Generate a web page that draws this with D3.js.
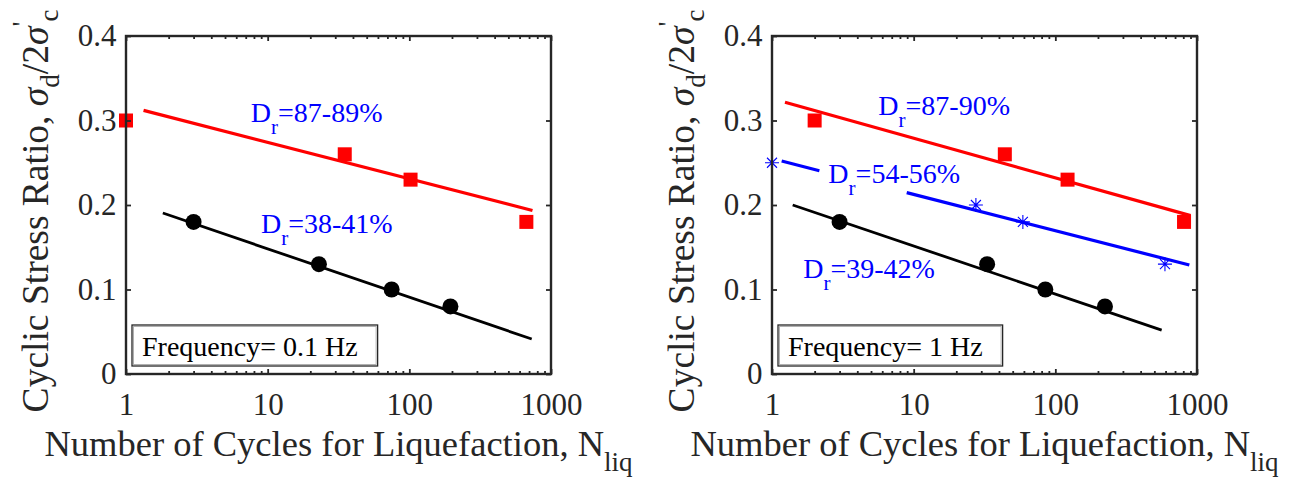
<!DOCTYPE html>
<html>
<head>
<meta charset="utf-8">
<script src="https://cdn.jsdelivr.net/npm/d3@7"></script>
<style>
    body { margin: 0; background: #fff; }
    text { font-family: "Liberation Serif", "Times New Roman", serif; }
</style>
</head>
<body>
<div id="chart"></div>
<script>
// axis ticks
const xTickValues = [1, 10, 100, 1000];
const xTickLabels = ['1', '10', '100', '1000'];
const yTickValues = [0, 0.1, 0.2, 0.3, 0.4];
const yTickLabels = ['0', '0.1', '0.2', '0.3', '0.4'];

// Frequency = 0.1 Hz
const dense01N = [1, 35, 102, 670];
const dense01CSR = [0.30, 0.26, 0.23, 0.18];
const dense01Fit = [[1.33, 0.312], [740, 0.1935]];
const loose01N = [3, 23, 75, 195];
const loose01CSR = [0.18, 0.13, 0.10, 0.08];
const loose01Fit = [[1.82, 0.1905], [731, 0.0414]];

// Frequency = 1 Hz
const dense1N = [2, 44, 122, 810];
const dense1CSR = [0.30, 0.26, 0.23, 0.18];
const dense1Fit = [[1.235, 0.3215], [902, 0.1874]];
const medium1N = [1, 27.5, 59, 594];
const medium1CSR = [0.25, 0.20, 0.18, 0.13];
const medium1FitA = [[1.17, 0.252], [2.16, 0.2406]];
const medium1FitB = [[8.93, 0.2146], [883, 0.129]];
const loose1N = [3, 33, 85, 224];
const loose1CSR = [0.18, 0.13, 0.10, 0.08];
const loose1Fit = [[1.4, 0.20], [563, 0.052]];

// annotation labels: text after "D_r" and where it sits (N, CSR)
const labels01 = ['=87-89%', '=38-41%'];
const labels01At = [[7.6, 0.298], [8.97, 0.167]];
const labels1 = ['=87-90%', '=54-56%', '=39-42%'];
const labels1At = [[5.63, 0.3065], [2.5, 0.2257], [1.66, 0.1133]];

const freqText = ['Frequency= 0.1 Hz', 'Frequency= 1 Hz'];

const zip = (xs, ys) => xs.map((x, i) => [x, ys[i]]);

const panels = [
    {
        left: 126,
        series: [
            { marker: 'square', color: '#ff0000', pts: zip(dense01N, dense01CSR), fits: [dense01Fit] },
            { marker: 'circle', color: '#000000', pts: zip(loose01N, loose01CSR), fits: [loose01Fit] }
        ],
        labels: zip(labels01, labels01At),
        freq: freqText[0]
    },
    {
        left: 772,
        series: [
            { marker: 'square', color: '#ff0000', pts: zip(dense1N, dense1CSR), fits: [dense1Fit] },
            { marker: 'star', color: '#0000ff', pts: zip(medium1N, medium1CSR), fits: [medium1FitA, medium1FitB] },
            { marker: 'circle', color: '#000000', pts: zip(loose1N, loose1CSR), fits: [loose1Fit] }
        ],
        labels: zip(labels1, labels1At),
        freq: freqText[1]
    }
];

const plotTop = 36, width = 425, height = 338;
const axisColor = '#262626';
const minorTicks = [];
[1, 10, 100].forEach(d => { for (let k = 2; k <= 9; k++) minorTicks.push(d * k); });

const svg = d3.select('#chart').append('svg')
    .attr('width', 1293)
    .attr('height', 482);

function styleAxis(g, size) {
    g.select('.domain').remove();
    g.selectAll('line').attr('stroke', axisColor).attr('stroke-width', 1.8);
    g.selectAll('text')
        .attr('font-size', size)
        .attr('fill', axisColor);
}

function drawPanel(p) {
    const x = d3.scaleLog().domain([1, 1000]).range([0, width]);
    const y = d3.scaleLinear().domain([0, 0.4]).range([height, 0]);

    const g = svg.append('g').attr('transform', `translate(${p.left},${plotTop})`);

    // fit lines
    const lineFn = d3.line().x(d => x(d[0])).y(d => y(d[1]));
    p.series.forEach(s => {
        s.fits.forEach(f => {
            g.append('path')
                .attr('d', lineFn(f))
                .attr('stroke', s.color)
                .attr('stroke-width', s.marker === 'circle' ? 2.8 : 3.2)
                .attr('fill', 'none');
        });
    });

    // markers
    p.series.forEach(s => {
        const m = g.selectAll(null).data(s.pts).enter();
        if (s.marker === 'square') {
            m.append('rect')
                .attr('x', d => x(d[0]) - 7)
                .attr('y', d => y(d[1]) - 7)
                .attr('width', 14).attr('height', 14)
                .attr('fill', s.color);
        } else if (s.marker === 'circle') {
            m.append('circle')
                .attr('cx', d => x(d[0]))
                .attr('cy', d => y(d[1]))
                .attr('r', 8)
                .attr('fill', s.color);
        } else {
            m.append('path')
                .attr('transform', d => `translate(${x(d[0])},${y(d[1])})`)
                .attr('d', 'M-7,0L7,0M0,-7L0,7M-5,-5L5,5M-5,5L5,-5')
                .attr('stroke', s.color)
                .attr('stroke-width', 1.1)
                .attr('fill', 'none');
        }
    });

    // D_r labels
    p.labels.forEach(([txt, at]) => {
        const t = g.append('text')
            .attr('x', x(at[0]))
            .attr('y', y(at[1]))
            .attr('fill', '#0000ff')
            .attr('font-size', 28);
        t.append('tspan').text('D');
        t.append('tspan').attr('dy', 12).attr('font-size', 21).text('r');
        t.append('tspan').attr('dy', -12).text(txt);
    });

    // frequency box
    const fb = g.append('g').attr('transform', `translate(6, ${height - 49})`);
    const ft = fb.append('text')
        .attr('x', 10)
        .attr('y', 31)
        .attr('font-size', 28)
        .attr('fill', '#000')
        .text(p.freq);
    const bw = ft.node().getComputedTextLength() + 30;
    fb.insert('rect', 'text')
        .attr('width', bw)
        .attr('height', 41)
        .attr('fill', '#fff')
        .attr('stroke', axisColor)
        .attr('stroke-width', 1.3);
    fb.insert('rect', 'text')
        .attr('x', 1.5).attr('y', 1.5)
        .attr('width', bw - 3)
        .attr('height', 38)
        .attr('fill', 'none')
        .attr('stroke', '#b0b0b0')
        .attr('stroke-width', 1);

    // ticks
    g.append('g').attr('transform', `translate(0,${height})`)
        .call(d3.axisBottom(x).tickValues(xTickValues).tickSizeInner(-5).tickSizeOuter(0).tickPadding(19)
            .tickFormat((d, i) => xTickLabels[i]))
        .call(a => styleAxis(a, 31));
    g.append('g').attr('transform', `translate(0,${height})`)
        .call(d3.axisBottom(x).tickValues(minorTicks).tickSizeInner(-3).tickSizeOuter(0).tickFormat(''))
        .call(a => styleAxis(a, 31));
    g.append('g')
        .call(d3.axisTop(x).tickValues(xTickValues).tickSizeInner(-5).tickSizeOuter(0).tickFormat(''))
        .call(a => styleAxis(a, 31));
    g.append('g')
        .call(d3.axisTop(x).tickValues(minorTicks).tickSizeInner(-3).tickSizeOuter(0).tickFormat(''))
        .call(a => styleAxis(a, 31));
    g.append('g')
        .call(d3.axisLeft(y).tickValues(yTickValues).tickSizeInner(-5).tickSizeOuter(0).tickPadding(9.5)
            .tickFormat((d, i) => yTickLabels[i]))
        .call(a => styleAxis(a, 31));
    g.append('g').attr('transform', `translate(${width},0)`)
        .call(d3.axisRight(y).tickValues(yTickValues).tickSizeInner(-5).tickSizeOuter(0).tickFormat(''))
        .call(a => styleAxis(a, 31));

    // box
    g.append('rect')
        .attr('width', width)
        .attr('height', height)
        .attr('fill', 'none')
        .attr('stroke', axisColor)
        .attr('stroke-width', 2.4);

    // x label
    const xl = g.append('text')
        .attr('x', width / 2)
        .attr('y', height + 82)
        .attr('text-anchor', 'middle')
        .attr('font-size', 36.5)
        .attr('fill', axisColor);
    xl.append('tspan').text('Number of Cycles for Liquefaction, N');
    xl.append('tspan').attr('dy', 15).attr('font-size', 27).text('liq');

    // y label
    const yl = g.append('text')
        .attr('transform', `translate(-78,${height / 2 + 6}) rotate(-90)`)
        .attr('text-anchor', 'middle')
        .attr('font-size', 37.5)
        .attr('fill', axisColor);
    yl.append('tspan').text('Cyclic Stress Ratio, ');
    yl.append('tspan').attr('font-style', 'italic').text('σ');
    yl.append('tspan').attr('dy', 11).attr('font-size', 27).text('d');
    yl.append('tspan').attr('dy', -11).text('/2');
    yl.append('tspan').attr('font-style', 'italic').text('σ');
    yl.append('tspan').attr('dy', -17).attr('font-size', 27).text('\'');
    yl.append('tspan').attr('dy', 27).attr('font-size', 27).text('c');
}

panels.forEach(drawPanel);
</script>
</body>
</html>
